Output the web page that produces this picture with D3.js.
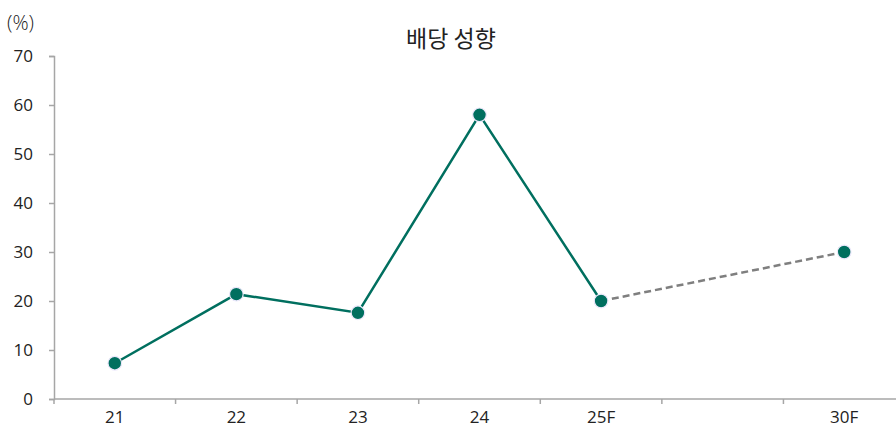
<!DOCTYPE html>
<html>
<head>
<meta charset="utf-8">
<script src="https://cdn.jsdelivr.net/npm/d3@7"></script>
<style>
  body { margin: 0; background: #fff; }
  text { font-family: "Open Sans", "Noto Sans CJK KR", sans-serif; fill: #222; }
</style>
</head>
<body>
<div id="chart"></div>
<script>
// categories and values (blank slot between 25F and 30F)
var categories = ["21", "22", "23", "24", "25F", "", "30F"];
var actualYears = ["21", "22", "23", "24", "25F"];
var actualValues = [7.3, 21.4, 17.6, 58.0, 20.0];
var forecastYears = ["25F", "30F"];
var forecastValues = [20.0, 30.0];
var yTicks = [0, 10, 20, 30, 40, 50, 60, 70];

var W = 896, H = 427;
var margin = { top: 56, left: 54, bottom: 28 };
var plotW = 851;

var svg = d3.select("#chart")
    .append("svg")
    .attr("width", W)
    .attr("height", H);

var g = svg.append("g")
    .attr("transform", "translate(" + margin.left + "," + margin.top + ")");

// scales
var x = d3.scaleBand()
    .domain(categories)
    .range([0, plotW]);

var y = d3.scaleLinear()
    .domain([0, 70])
    .range([343, 0]);

// y axis
var yAxis = g.append("g")
    .call(d3.axisLeft(y).tickValues(yTicks).tickSize(5).tickPadding(16));
yAxis.select(".domain").attr("stroke", "#a6a6a6").attr("stroke-width", 1.5);
yAxis.selectAll(".tick line").attr("stroke", "#a6a6a6").attr("stroke-width", 1.5);
yAxis.selectAll(".tick text")
    .style("font-size", "17px")
    .style("font-family", "'Open Sans', sans-serif")
    .attr("fill", "#222");

// x axis with ticks at band boundaries
var xAxis = g.append("g")
    .attr("transform", "translate(0," + y(0) + ")");
xAxis.append("line")
    .attr("x1", 0).attr("x2", plotW)
    .attr("stroke", "#a6a6a6").attr("stroke-width", 1.5);
xAxis.selectAll(".bt")
    .data(categories.concat(["end"]))
    .enter()
    .append("line")
    .attr("x1", function (d, i) { return i * x.step(); })
    .attr("x2", function (d, i) { return i * x.step(); })
    .attr("y1", 0).attr("y2", 5)
    .attr("stroke", "#a6a6a6").attr("stroke-width", 1.5);
xAxis.selectAll(".xl")
    .data(categories)
    .enter()
    .append("text")
    .attr("x", function (d) { return x(d) + x.bandwidth() / 2; })
    .attr("y", 24)
    .attr("text-anchor", "middle")
    .style("font-size", "17px")
    .text(function (d) { return d; });

var cx = function (d) { return x(d) + x.bandwidth() / 2; };

var actual = actualYears.map(function (d, i) { return { k: d, v: actualValues[i] }; });
var forecast = forecastYears.map(function (d, i) { return { k: d, v: forecastValues[i] }; });

var line = d3.line()
    .x(function (d) { return cx(d.k); })
    .y(function (d) { return y(d.v); });

// actual line
g.append("path")
    .datum(actual)
    .attr("fill", "none")
    .attr("stroke", "#006f5f")
    .attr("stroke-width", 2.5)
    .attr("d", line);

// forecast line
g.append("path")
    .datum(forecast)
    .attr("fill", "none")
    .attr("stroke", "#7f7f7f")
    .attr("stroke-width", 2.5)
    .attr("stroke-dasharray", "7,4")
    .attr("d", line);

// markers
g.selectAll(".dot")
    .data(actual.concat([forecast[1]]))
    .enter()
    .append("circle")
    .attr("cx", function (d) { return cx(d.k); })
    .attr("cy", function (d) { return y(d.v); })
    .attr("r", 6.8)
    .attr("fill", "#006f5f")
    .attr("stroke", "#ece8fb")
    .attr("stroke-width", 1.2);

// title and unit
svg.append("text")
    .attr("x", 451)
    .attr("y", 47)
    .attr("text-anchor", "middle")
    .style("font-size", "23px")
    .style("font-family", "'Noto Sans CJK KR', sans-serif")
    .style("font-weight", 400)
    .text("배당 성향");

svg.append("text")
    .attr("x", 7)
    .attr("y", 30)
    .style("font-size", "20px")
    .style("font-weight", 300)
    .text("(%)");
</script>
</body>
</html>
